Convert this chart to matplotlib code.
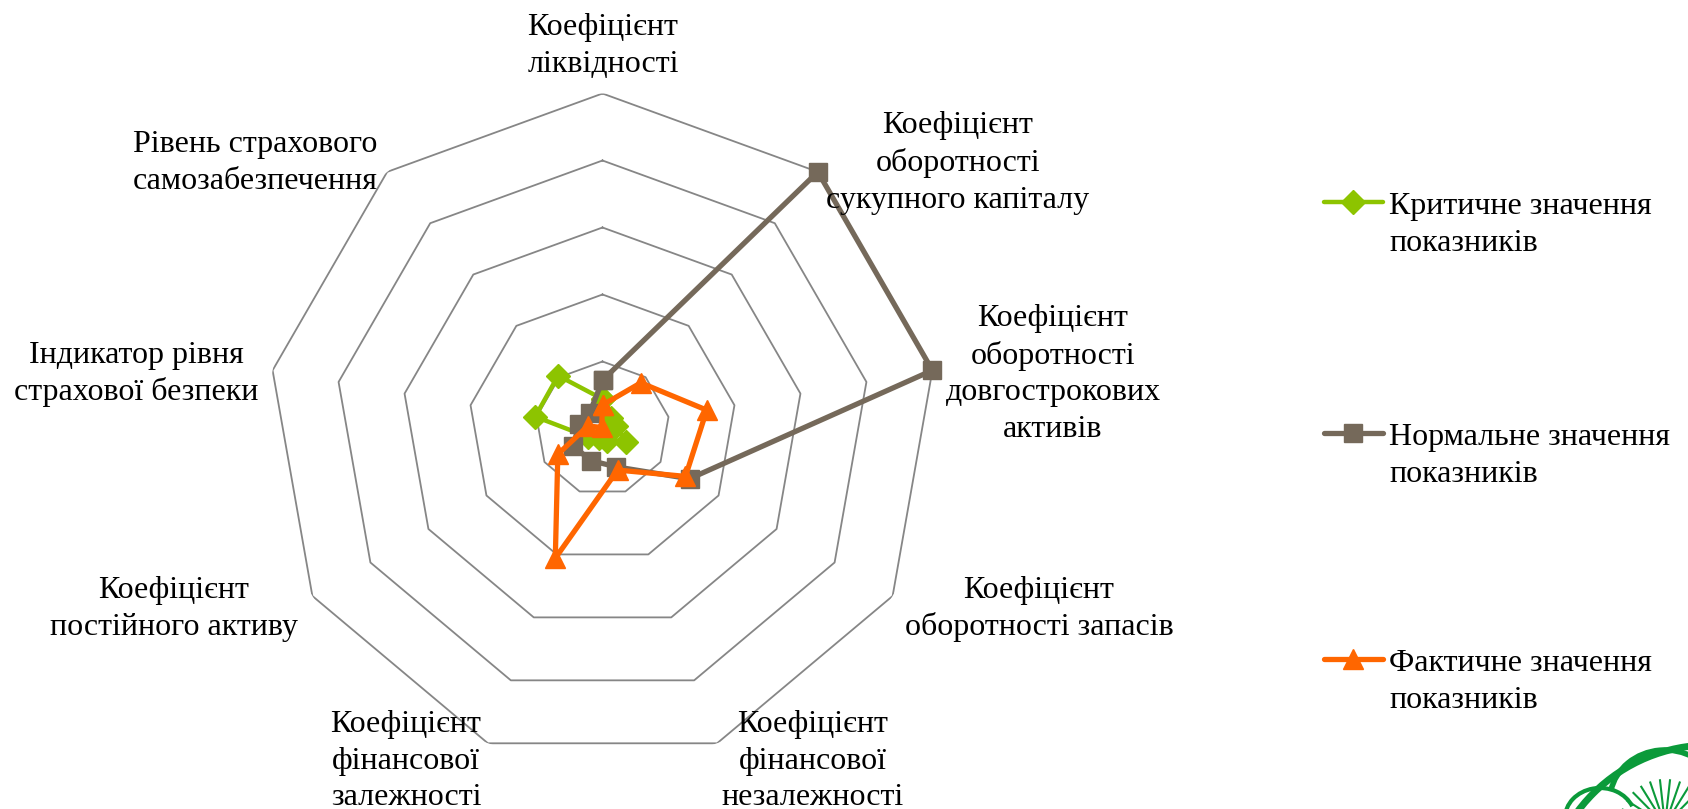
"""Radar chart of insurance company financial indicators."""

from __future__ import annotations

import numpy as np
import matplotlib

matplotlib.use("Agg")
import matplotlib.pyplot as plt
from matplotlib.lines import Line2D
from matplotlib.patches import Arc

categories = [
    "Коефіцієнт\nліквідності",
    "Коефіцієнт\nоборотності\nсукупного капіталу",
    "Коефіцієнт\nоборотності\nдовгострокових\nактивів",
    "Коефіцієнт\nоборотності запасів",
    "Коефіцієнт\nфінансової\nнезалежності",
    "Коефіцієнт\nфінансової\nзалежності",
    "Коефіцієнт\nпостійного активу",
    "Індикатор рівня\nстрахової безпеки",
    "Рівень страхового\nсамозабезпечення",
]

critical = [0.44, 0.20, 0.20, 0.41, 0.20, 0.15, 0.25, 1.02, 1.03]
normal = [0.72, 5.00, 5.00, 1.50, 0.61, 0.51, 0.51, 0.35, 0.30]
actual = [0.35, 0.89, 1.58, 1.43, 0.66, 2.06, 0.77, 0.22, 0.02]

series_names = [
    "Критичне значення\nпоказників",
    "Нормальне значення\nпоказників",
    "Фактичне значення\nпоказників",
]
ring_levels = [1, 2, 3, 4, 5]

W, H = 1688, 809
FONT = "Liberation Serif"
FS = 23
LS = 1.34

# label anchor points in figure pixels (from top-left)
label_pos = [
    (603, 46), (958, 163), (1053, 374), (1039, 609), (813, 761),
    (406, 761), (174, 609), (136, 374), (255, 163),
]

styles = [
    dict(color="#8DC400", marker="D", ms=12, lw=3.2),
    dict(color="#75695A", marker="s", ms=13, lw=3.8),
    dict(color="#FF6600", marker="^", ms=15, lw=3.8),
]
legend_y = [202, 433, 659]
LOGO = "#0B9A3A"


def fx(px: float) -> float:
    return px / W


def fy(py: float) -> float:
    return 1 - py / H


def draw_logo(fig) -> None:
    # rough sketch of the emblem cut off in the lower right corner
    logo = fig.add_axes([fx(1540), 0, 1 - fx(1540), (H - 700) / H])
    logo.set_xlim(1540, W)
    logo.set_ylim(H, 700)
    logo.axis("off")
    logo.add_patch(Arc((1710, 910), 330, 330, theta1=180, theta2=270, color=LOGO, lw=5))
    logo.add_patch(Arc((1665, 800), 110, 100, theta1=190, theta2=340, color=LOGO, lw=4))
    logo.add_patch(Arc((1600, 818), 70, 60, theta1=180, theta2=340, color=LOGO, lw=3))
    for a in np.linspace(200, 340, 12):
        t = np.radians(a)
        logo.plot([1665 + 14 * np.cos(t), 1665 + 45 * np.cos(t)],
                  [825 + 14 * np.sin(t), 825 + 45 * np.sin(t)], color=LOGO, lw=1.5)


def main() -> None:
    fig = plt.figure(figsize=(W / 100, H / 100), dpi=100)
    cx, cy, rad = 602.5, 428.5, 335
    ax = fig.add_axes([fx(cx - rad), fy(cy + rad), 2 * rad / W, 2 * rad / H], projection="polar")
    ax.set_theta_zero_location("N")
    ax.set_theta_direction(-1)
    ax.set_ylim(0, 5)
    ax.grid(False)
    ax.spines["polar"].set_visible(False)
    ax.set_xticks([])
    ax.set_yticks([])
    ax.patch.set_alpha(0)

    n = len(categories)
    angles = np.linspace(0, 2 * np.pi, n, endpoint=False)
    closed = np.append(angles, angles[0])

    for level in ring_levels:
        ax.plot(closed, [level] * (n + 1), color="#868686", lw=1.3, zorder=1)

    for values, style in zip([critical, normal, actual], styles):
        ax.plot(closed, values + values[:1], color=style["color"], lw=style["lw"],
                marker=style["marker"], ms=style["ms"], mec=style["color"],
                zorder=3, clip_on=False)

    for label, (px, py) in zip(categories, label_pos):
        fig.text(fx(px), fy(py), label, ha="center", va="center", family=FONT,
                 fontsize=FS, linespacing=LS, color="black")

    for name, style, ly in zip(series_names, styles, legend_y):
        fig.add_artist(Line2D([fx(1324), fx(1383)], [fy(ly), fy(ly)], color=style["color"],
                              lw=style["lw"], solid_capstyle="round"))
        fig.add_artist(Line2D([fx(1353)], [fy(ly)], color=style["color"], marker=style["marker"],
                              ms=style["ms"], mec=style["color"]))
        fig.text(fx(1389), fy(ly + 23), name, ha="left", va="center", family=FONT,
                 fontsize=FS, linespacing=LS, color="black")

    draw_logo(fig)

    fig.savefig("out.png", dpi=100)
    plt.close(fig)


if __name__ == "__main__":
    main()
